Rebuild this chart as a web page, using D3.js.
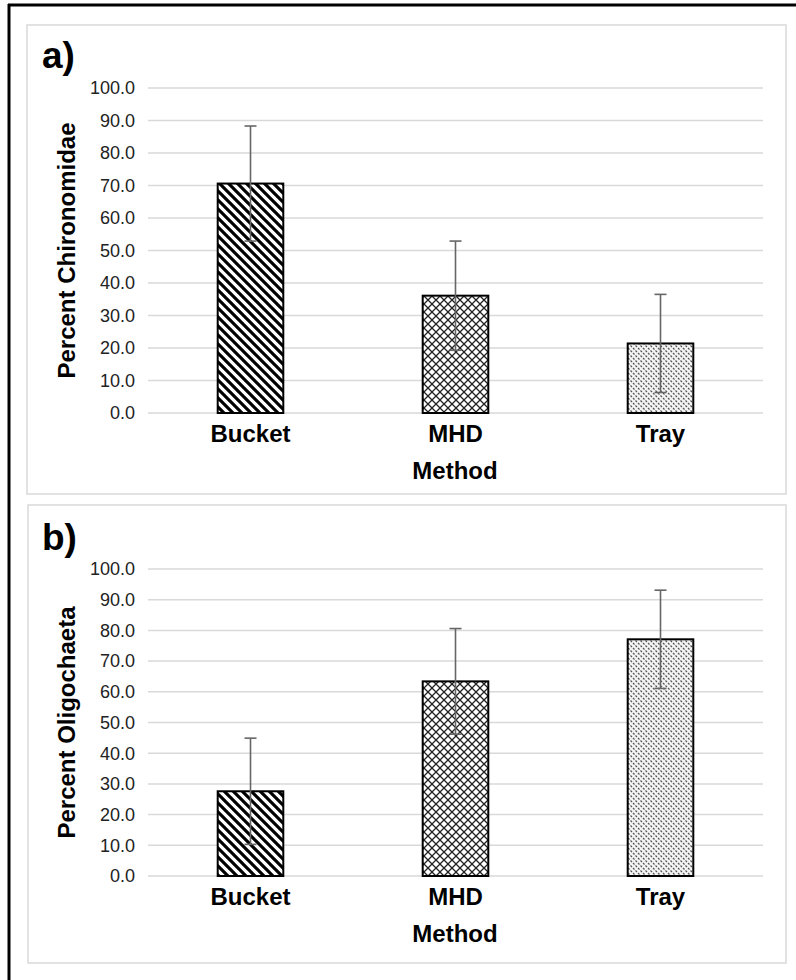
<!DOCTYPE html>
<html>
<head>
<meta charset="utf-8">
<script src="https://cdn.jsdelivr.net/npm/d3@7"></script>
<style>
  body { margin: 0; background: #fff; }
  svg text { font-family: Arial, "Liberation Sans", sans-serif; }
</style>
</head>
<body>
<div id="chart"></div>
<script>
// categories and values
var methods = ['Bucket', 'MHD', 'Tray'];
var chironomidae = [70.6, 36.1, 21.4];
var chironomidaeErr = [17.7, 16.8, 15.1];
var oligochaeta = [27.6, 63.4, 77.1];
var oligochaetaErr = [17.3, 17.2, 16.0];
var yTicks = [0, 10, 20, 30, 40, 50, 60, 70, 80, 90, 100];
var patterns = ['pat-diag', 'pat-diamond', 'pat-dots'];

var width = 796, height = 980;

var svg = d3.select('#chart').append('svg')
  .attr('width', width)
  .attr('height', height);

svg.append('rect').attr('width', width).attr('height', height).attr('fill', '#fff');

// fill patterns, roughly like the Excel ones
var defs = svg.append('defs');

var p1 = defs.append('pattern').attr('id', 'pat-diag')
  .attr('patternUnits', 'userSpaceOnUse').attr('width', 9).attr('height', 9);
p1.append('rect').attr('width', 9).attr('height', 9).attr('fill', '#fff');
p1.append('path').attr('d', 'M-2,-2 L11,11 M-2,7 L2,11 M7,-2 L11,2')
  .attr('stroke', '#000').attr('stroke-width', 3.1);

var p2 = defs.append('pattern').attr('id', 'pat-diamond')
  .attr('patternUnits', 'userSpaceOnUse').attr('width', 8).attr('height', 8);
p2.append('rect').attr('width', 8).attr('height', 8).attr('fill', '#fff');
p2.append('path').attr('d', 'M0,0 L8,8 M8,0 L0,8')
  .attr('stroke', '#222').attr('stroke-width', 1.3);

var p3 = defs.append('pattern').attr('id', 'pat-dots')
  .attr('patternUnits', 'userSpaceOnUse').attr('width', 5).attr('height', 5);
p3.append('rect').attr('width', 5).attr('height', 5).attr('fill', '#f4f4f4');
p3.append('path').attr('d', 'M0.5,0.5 L2,2 M3,3 L4.5,4.5')
  .attr('stroke', '#555').attr('stroke-width', 1.2);

// outer black frame (only top and left show in the figure)
svg.append('line').attr('x1', 8).attr('y1', 5).attr('x2', width).attr('y2', 5)
  .attr('stroke', '#000').attr('stroke-width', 3);
svg.append('line').attr('x1', 9).attr('y1', 4).attr('x2', 9).attr('y2', height)
  .attr('stroke', '#000').attr('stroke-width', 3);

function drawPanel(cfg) {
  var g = svg.append('g');

  g.append('rect')
    .attr('x', cfg.box[0]).attr('y', cfg.box[1])
    .attr('width', cfg.box[2] - cfg.box[0]).attr('height', cfg.box[3] - cfg.box[1])
    .attr('fill', '#fff').attr('stroke', '#d9d9d9').attr('stroke-width', 1.5);

  var x = d3.scaleBand().domain(methods)
    .range([148, 763]).paddingInner(0.68).paddingOuter(0.34);
  var y = d3.scaleLinear().domain([0, 100]).range([cfg.y0, cfg.y100]);

  // gridlines
  g.selectAll('line.grid').data(yTicks).enter().append('line')
    .attr('class', 'grid')
    .attr('x1', 148).attr('x2', 763)
    .attr('y1', function(d) { return y(d); })
    .attr('y2', function(d) { return y(d); })
    .attr('stroke', '#d9d9d9').attr('stroke-width', 1.5);

  // y tick labels
  g.selectAll('text.ytick').data(yTicks).enter().append('text')
    .attr('class', 'ytick')
    .attr('x', 135)
    .attr('y', function(d) { return y(d); })
    .attr('dy', '0.35em')
    .attr('text-anchor', 'end')
    .attr('font-size', 18)
    .attr('fill', '#222')
    .text(function(d) { return d.toFixed(1); });

  // bars
  g.selectAll('rect.bar').data(cfg.values).enter().append('rect')
    .attr('class', 'bar')
    .attr('x', function(d, i) { return x(methods[i]); })
    .attr('y', function(d) { return y(d); })
    .attr('width', x.bandwidth())
    .attr('height', function(d) { return y(0) - y(d); })
    .attr('fill', function(d, i) { return 'url(#' + patterns[i] + ')'; })
    .attr('stroke', '#000').attr('stroke-width', 2);

  // error bars
  var errs = g.selectAll('g.err').data(cfg.values).enter().append('g').attr('class', 'err');
  errs.append('line')
    .attr('x1', function(d, i) { return x(methods[i]) + x.bandwidth() / 2; })
    .attr('x2', function(d, i) { return x(methods[i]) + x.bandwidth() / 2; })
    .attr('y1', function(d, i) { return y(d - cfg.errors[i]); })
    .attr('y2', function(d, i) { return y(d + cfg.errors[i]); })
    .attr('stroke', '#666').attr('stroke-width', 1.6);
  errs.append('line')
    .attr('x1', function(d, i) { return x(methods[i]) + x.bandwidth() / 2 - 6; })
    .attr('x2', function(d, i) { return x(methods[i]) + x.bandwidth() / 2 + 6; })
    .attr('y1', function(d, i) { return y(d + cfg.errors[i]); })
    .attr('y2', function(d, i) { return y(d + cfg.errors[i]); })
    .attr('stroke', '#666').attr('stroke-width', 1.6);
  errs.append('line')
    .attr('x1', function(d, i) { return x(methods[i]) + x.bandwidth() / 2 - 6; })
    .attr('x2', function(d, i) { return x(methods[i]) + x.bandwidth() / 2 + 6; })
    .attr('y1', function(d, i) { return y(d - cfg.errors[i]); })
    .attr('y2', function(d, i) { return y(d - cfg.errors[i]); })
    .attr('stroke', '#666').attr('stroke-width', 1.6);

  // category labels
  g.selectAll('text.cat').data(methods).enter().append('text')
    .attr('class', 'cat')
    .attr('x', function(d) { return x(d) + x.bandwidth() / 2; })
    .attr('y', y(0) + 29)
    .attr('text-anchor', 'middle')
    .attr('font-size', 24).attr('font-weight', 'bold')
    .text(function(d) { return d; });

  // axis titles
  g.append('text')
    .attr('x', 455).attr('y', y(0) + 66)
    .attr('text-anchor', 'middle')
    .attr('font-size', 24).attr('font-weight', 'bold')
    .text('Method');

  g.append('text')
    .attr('transform', 'translate(' + 75 + ',' + ((y(0) + y(100)) / 2) + ') rotate(-90)')
    .attr('text-anchor', 'middle')
    .attr('font-size', 24).attr('font-weight', 'bold')
    .text(cfg.yTitle);

  // panel letter
  g.append('text')
    .attr('x', 42).attr('y', cfg.letterY)
    .attr('font-size', 37).attr('font-weight', 'bold')
    .text(cfg.letter);
}

drawPanel({
  box: [27, 25, 786, 494],
  y0: 413, y100: 88,
  values: chironomidae, errors: chironomidaeErr,
  yTitle: 'Percent Chironomidae',
  letter: 'a)', letterY: 68
});

drawPanel({
  box: [28, 505, 786, 963],
  y0: 876, y100: 569,
  values: oligochaeta, errors: oligochaetaErr,
  yTitle: 'Percent Oligochaeta',
  letter: 'b)', letterY: 550
});
</script>
</body>
</html>
